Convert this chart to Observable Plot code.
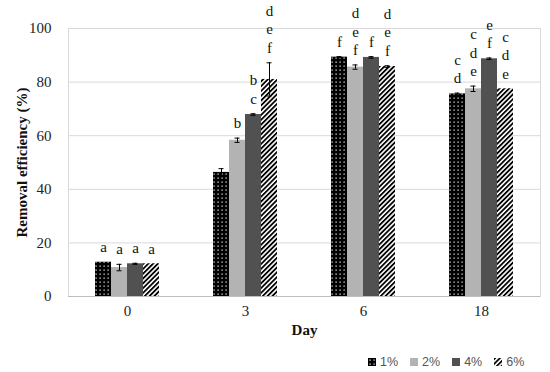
<!DOCTYPE html>
<html><head><meta charset="utf-8">
<script src="https://cdn.jsdelivr.net/npm/d3@7"></script>
<script src="https://cdn.jsdelivr.net/npm/@observablehq/plot@0.6"></script>
<style>
body{margin:0;background:#fff;}
#wrap{position:relative;width:550px;height:372px;}
#chart svg{display:block;}
g[aria-label="fx-axis label"] text, g[aria-label="y-axis label"] text{font-weight:bold;fill:#111;}
#legend{position:absolute;left:368px;top:355px;display:flex;align-items:center;font-family:"Liberation Sans",Arial,sans-serif;font-size:12.5px;color:#555;}
#legend .it{display:flex;align-items:center;margin-right:12px;}
#legend svg{margin-right:4px;}
</style></head><body>
<svg width="0" height="0" style="position:absolute">
<defs>
<pattern id="p1" width="4" height="4" patternUnits="userSpaceOnUse"><rect width="4" height="4" fill="#000"/><rect x="1.5" y="1.5" width="1.2" height="1.2" fill="#fff"/></pattern>
<pattern id="p6" width="3.4" height="3.4" patternUnits="userSpaceOnUse" patternTransform="rotate(45)"><rect width="3.4" height="3.4" fill="#fff"/><rect width="1.8" height="3.4" fill="#000"/></pattern>
</defs></svg>
<div id="wrap"><div id="chart"></div><div id="legend"></div></div>
<script>
const days = ["0", "3", "6", "18"];
const concs = ["1%", "2%", "4%", "6%"];
const yTicks = [0, 20, 40, 60, 80, 100];
// values per concentration, by day
const v1 = [12.8, 46.3, 89.3, 75.6];
const v2 = [10.8, 58.3, 85.6, 77.5];
const v4 = [12.2, 67.9, 89.2, 88.7];
const v6 = [12.2, 81.0, 85.8, 77.5];
// standard errors
const e1 = [0, 1.4, 0.2, 0.3];
const e2 = [1.2, 0.8, 0.8, 1.0];
const e4 = [0.2, 0.3, 0.3, 0.3];
const e6 = [0, 6.2, 0.3, 0];
// significance letters
const l1 = ["a", "", "f", "c\nd"];
const l2 = ["a", "b", "d\ne\nf", "c\nd\ne"];
const l4 = ["a", "b\nc", "f", "e\nf"];
const l6 = ["a", "d\ne\nf", "d\ne\nf", "c\nd\ne"];
const fills = ["url(#p1)", "#b3b3b3", "#515151", "url(#p6)"];

const vals = [v1, v2, v4, v6], errs = [e1, e2, e4, e6], labs = [l1, l2, l4, l6];
const data = [];
days.forEach((d, i) => concs.forEach((c, j) => data.push({day: d, conc: c, value: vals[j][i], err: errs[j][i], label: labs[j][i]})));
const errData = data.filter(d => d.err > 0);

const chart = Plot.plot({
  width: 550, height: 340,
  marginLeft: 66, marginRight: 9, marginTop: 28, marginBottom: 44,
  style: {fontFamily: "'Liberation Serif','Times New Roman',serif", fontSize: "15px", color: "#222", background: "#fff", overflow: "visible"},
  fx: {domain: days, padding: 0},
  x: {domain: concs, axis: null, paddingInner: 0, paddingOuter: 1.49},
  y: {domain: [0, 100], axis: null},
  color: {type: "ordinal", domain: concs, range: fills},
  marks: [
    Plot.gridY(yTicks, {stroke: "#d9d9d9", strokeOpacity: 1}),
    Plot.frame({facet: "super", stroke: "#d9d9d9"}),
    Plot.ruleY([0], {stroke: "#bdbdbd"}),
    Plot.barY(data, {fx: "day", x: "conc", y: "value", fill: "conc"}),
    Plot.ruleX(errData, {fx: "day", x: "conc", y1: d => d.value - d.err, y2: d => d.value + d.err, stroke: "#000"}),
    Plot.tickY(errData, {fx: "day", x: "conc", y: d => d.value + d.err, stroke: "#000", insetLeft: 5.5, insetRight: 5.5}),
    Plot.tickY(errData, {fx: "day", x: "conc", y: d => d.value - d.err, stroke: "#000", insetLeft: 5.5, insetRight: 5.5}),
    Plot.text(data, {fx: "day", x: "conc", y: d => d.value + d.err, text: "label", lineAnchor: "bottom", lineHeight: 1.23, dy: -10, fontSize: 15, fill: "#111"}),
    Plot.axisY({ticks: yTicks, tickSize: 0, tickPadding: 17, label: "Removal efficiency (%)", labelAnchor: "center", labelArrow: "none", labelOffset: 52, fontSize: 15}),
    Plot.axisFx({anchor: "bottom", tickSize: 0, tickPadding: 9, label: "Day", labelAnchor: "center", labelArrow: "none", labelOffset: 38, fontSize: 15})
  ]
});
document.getElementById("chart").appendChild(chart);

const legend = document.getElementById("legend");
concs.forEach((c, j) => {
  const it = document.createElement("div");
  it.className = "it";
  it.innerHTML = `<svg width="8" height="8"><rect width="8" height="8" fill="${fills[j]}"/></svg><span>${c}</span>`;
  legend.appendChild(it);
});
</script>
</body></html>
